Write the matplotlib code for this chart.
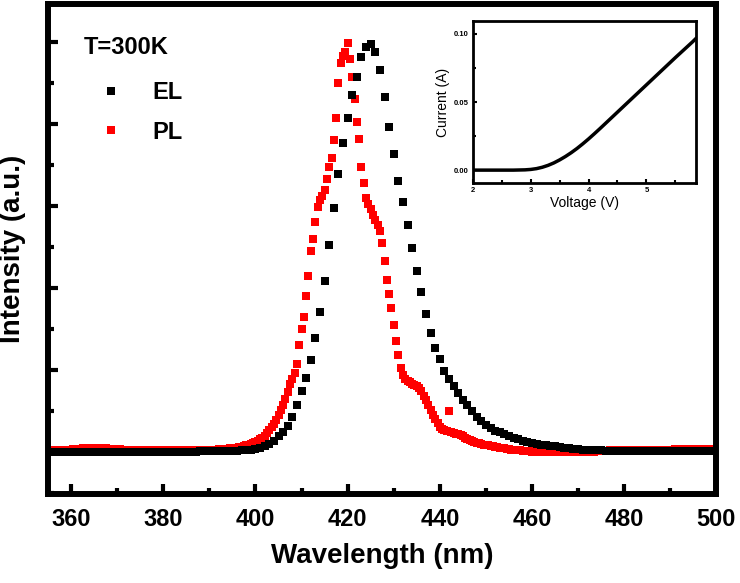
import numpy as np
import matplotlib
matplotlib.use('Agg')
import matplotlib.pyplot as plt
from matplotlib.ticker import MultipleLocator

plt.rcParams['font.family'] = ['Liberation Sans', 'DejaVu Sans']

# EL spectrum, 1 nm steps from 355 to 500 nm (normalised)
el_wl = np.arange(355, 501, 1.0)
el_int = [
    0.000, 0.000, 0.000, 0.000, 0.000, 0.000, 0.000, 0.000, 0.000, 0.000,   # 355-364
    0.000, 0.000, 0.000, 0.000, 0.000, 0.000, 0.000, 0.000, 0.000, 0.000,   # 365-374
    0.000, 0.000, 0.000, 0.000, 0.000, 0.000, 0.000, 0.000, 0.000, 0.000,   # 375-384
    0.000, 0.000, 0.000, 0.001, 0.001, 0.001, 0.001, 0.001, 0.002, 0.002,   # 385-394
    0.002, 0.002, 0.003, 0.003, 0.004, 0.006, 0.009, 0.013, 0.019, 0.027,   # 395-404
    0.037, 0.048, 0.062, 0.085, 0.113, 0.148, 0.181, 0.223, 0.278, 0.342,   # 405-414
    0.417, 0.504, 0.594, 0.677, 0.753, 0.816, 0.870, 0.914, 0.963, 0.987,   # 415-424
    0.995, 0.975, 0.932, 0.867, 0.793, 0.726, 0.660, 0.609, 0.553, 0.497,   # 425-434
    0.441, 0.390, 0.335, 0.290, 0.254, 0.225, 0.197, 0.177, 0.160, 0.143,   # 435-444
    0.127, 0.113, 0.100, 0.085, 0.074, 0.066, 0.058, 0.051, 0.047, 0.042,   # 445-454
    0.038, 0.034, 0.030, 0.026, 0.023, 0.021, 0.019, 0.017, 0.015, 0.014,   # 455-464
    0.013, 0.011, 0.010, 0.008, 0.007, 0.006, 0.005, 0.004, 0.004, 0.003,   # 465-474
    0.003, 0.002, 0.002, 0.002, 0.002, 0.002, 0.001, 0.001, 0.001, 0.001,   # 475-484
    0.001, 0.001, 0.001, 0.001, 0.001, 0.001, 0.001, 0.001, 0.001, 0.001,   # 485-494
    0.001, 0.001, 0.001, 0.001, 0.001, 0.001,                               # 495-500
]

# PL spectrum, 0.5 nm steps from 355 to 500 nm (normalised)
pl_wl = np.arange(355, 500.25, 0.5)
pl_int = [
    0.003, 0.003, 0.003, 0.003, 0.003, 0.003, 0.003, 0.004, 0.004, 0.005,   # 355
    0.005, 0.006, 0.006, 0.007, 0.007, 0.008, 0.008, 0.009, 0.009, 0.009,   # 360
    0.009, 0.009, 0.009, 0.008, 0.008, 0.008, 0.007, 0.007, 0.007, 0.006,   # 365
    0.006, 0.006, 0.005, 0.005, 0.005, 0.005, 0.004, 0.004, 0.004, 0.004,   # 370
    0.004, 0.004, 0.004, 0.004, 0.003, 0.003, 0.003, 0.003, 0.003, 0.003,   # 375
    0.003, 0.003, 0.003, 0.003, 0.003, 0.003, 0.003, 0.003, 0.003, 0.003,   # 380
    0.003, 0.003, 0.003, 0.003, 0.004, 0.004, 0.004, 0.004, 0.004, 0.004,   # 385
    0.004, 0.005, 0.005, 0.005, 0.006, 0.006, 0.006, 0.007, 0.007, 0.008,   # 390
    0.008, 0.009, 0.010, 0.011, 0.012, 0.013, 0.015, 0.017, 0.019, 0.021,   # 395
    0.024, 0.027, 0.030, 0.034, 0.039, 0.045, 0.052, 0.060, 0.068, 0.078,   # 400
    0.090, 0.102, 0.115, 0.128, 0.145, 0.164, 0.178, 0.192, 0.213, 0.260,   # 405
    0.300, 0.330, 0.380, 0.430, 0.490, 0.520, 0.560, 0.597, 0.615, 0.625,   # 410
    0.640, 0.665, 0.695, 0.716, 0.760, 0.814, 0.900, 0.950, 0.965, 0.975,   # 415
    0.998, 0.960, 0.915, 0.861, 0.805, 0.763, 0.694, 0.657, 0.620, 0.604,   # 420
    0.592, 0.578, 0.565, 0.553, 0.540, 0.509, 0.465, 0.420, 0.385, 0.350,   # 425
    0.310, 0.270, 0.235, 0.205, 0.188, 0.178, 0.172, 0.169, 0.166, 0.163,   # 430
    0.160, 0.155, 0.147, 0.137, 0.125, 0.113, 0.102, 0.090, 0.079, 0.069,   # 435
    0.061, 0.056, 0.053, 0.051, 0.099, 0.048, 0.046, 0.044, 0.042, 0.040,   # 440
    0.037, 0.034, 0.031, 0.028, 0.026, 0.024, 0.022, 0.020, 0.019, 0.017,   # 445
    0.016, 0.015, 0.014, 0.013, 0.012, 0.011, 0.010, 0.009, 0.008, 0.007,   # 450
    0.006, 0.005, 0.005, 0.004, 0.003, 0.003, 0.002, 0.002, 0.001, 0.001,   # 455
    0.000, 0.000, -0.001, -0.001, -0.002, -0.002, -0.002, -0.002, -0.002, -0.002,  # 460
    -0.002, -0.002, -0.002, -0.002, -0.002, -0.002, -0.002, -0.002, -0.002, -0.002,  # 465
    -0.002, -0.002, -0.001, -0.001, -0.001, 0.000, 0.000, 0.000, 0.001, 0.001,  # 470
    0.001, 0.002, 0.002, 0.002, 0.003, 0.003, 0.003, 0.004, 0.004, 0.004,   # 475
    0.004, 0.005, 0.005, 0.005, 0.005, 0.005, 0.005, 0.005, 0.005, 0.005,   # 480
    0.005, 0.005, 0.005, 0.005, 0.005, 0.005, 0.005, 0.005, 0.005, 0.005,   # 485
    0.005, 0.005, 0.006, 0.006, 0.006, 0.006, 0.006, 0.006, 0.006, 0.006,   # 490
    0.006, 0.006, 0.006, 0.006, 0.006, 0.006, 0.006, 0.006, 0.006, 0.006,   # 495
    0.006,                                                                   # 500
]

# inset I-V curve
voltage = [2.0, 2.1, 2.2, 2.3, 2.4, 2.5, 2.6, 2.7, 2.8, 2.9,
           3.0, 3.1, 3.2, 3.3, 3.4, 3.5, 3.6, 3.7, 3.8, 3.9,
           4.0, 4.1, 4.2, 4.3, 4.4, 4.5, 4.6, 4.7, 4.8, 4.9,
           5.0, 5.1, 5.2, 5.3, 5.4, 5.5, 5.6, 5.7, 5.8, 5.85]
current = [0.0, 0.0, 0.0, 0.0, 0.0, 0.0, 0.0, 0.0, 0.0001, 0.0002,
           0.0005, 0.0011, 0.0021, 0.0035, 0.0053, 0.0075, 0.0100, 0.0128, 0.0159, 0.0193,
           0.0229, 0.0267, 0.0306, 0.0346, 0.0386, 0.0426, 0.0466, 0.0506, 0.0546, 0.0586,
           0.0626, 0.0666, 0.0706, 0.0746, 0.0786, 0.0826, 0.0865, 0.0904, 0.0943, 0.0964]

fig = plt.figure(figsize=(7.4, 5.83), dpi=100)
ax = fig.add_axes([0.065, 0.153, 0.903, 0.840])

ax.plot(pl_wl, pl_int, 's', color='#ff0000', ms=5.8, mew=0, label='PL', zorder=2)
ax.plot(el_wl, el_int, 's', color='black', ms=5.8, mew=0, label='EL', zorder=3)

ax.set_xlim(355, 500)
ax.set_ylim(-0.103, 1.093)
ax.xaxis.set_major_locator(MultipleLocator(20))
ax.xaxis.set_minor_locator(MultipleLocator(10))
ax.yaxis.set_major_locator(MultipleLocator(0.2))
ax.yaxis.set_minor_locator(MultipleLocator(0.1))
ax.tick_params(which='both', direction='in', top=False, right=False, width=3)
ax.tick_params(which='major', length=7, pad=10)
ax.tick_params(which='minor', length=4)
ax.set_yticklabels([])
for lab in ax.get_xticklabels():
    lab.set_fontsize(17)
    lab.set_fontweight('bold')
for sp in ax.spines.values():
    sp.set_linewidth(4.3)

ax.set_xlabel('Wavelength (nm)', fontsize=20, fontweight='bold', labelpad=9)
ax.set_ylabel('Intensity (a.u.)', fontsize=20, fontweight='bold', labelpad=6)

ax.text(0.053, 0.912, 'T=300K', transform=ax.transAxes, fontsize=17,
        fontweight='bold', va='center', ha='left')

h, l = ax.get_legend_handles_labels()
leg = ax.legend([h[1], h[0]], [l[1], l[0]], loc='upper left',
                bbox_to_anchor=(0.062, 0.862), frameon=False, numpoints=1,
                handlelength=1.0, handletextpad=1.25, labelspacing=0.7,
                borderaxespad=0, prop={'size': 17, 'weight': 'bold'})

# inset
ins = fig.add_axes([0.639, 0.686, 0.301, 0.278])
ins.plot(voltage, current, color='black', lw=2.5)
ins.set_xlim(2, 5.85)
ins.set_ylim(-0.0095, 0.1095)
ins.xaxis.set_major_locator(MultipleLocator(1))
ins.xaxis.set_minor_locator(MultipleLocator(0.5))
ins.yaxis.set_major_locator(MultipleLocator(0.05))
ins.yaxis.set_minor_locator(MultipleLocator(0.025))
ins.set_yticks([0, 0.05, 0.10])
ins.set_yticklabels(['0.00', '0.05', '0.10'])
ins.tick_params(which='both', direction='in', top=False, right=False, width=1.5,
                labelsize=5.5, pad=3)
ins.tick_params(which='major', length=3)
ins.tick_params(which='minor', length=2)
for lab in ins.get_xticklabels() + ins.get_yticklabels():
    lab.set_fontweight('bold')
for sp in ins.spines.values():
    sp.set_linewidth(2)
ins.set_xlabel('Voltage (V)', fontsize=10, labelpad=1)
ins.set_ylabel('Current (A)', fontsize=10, labelpad=3)

fig.savefig('out.png', dpi=100)
